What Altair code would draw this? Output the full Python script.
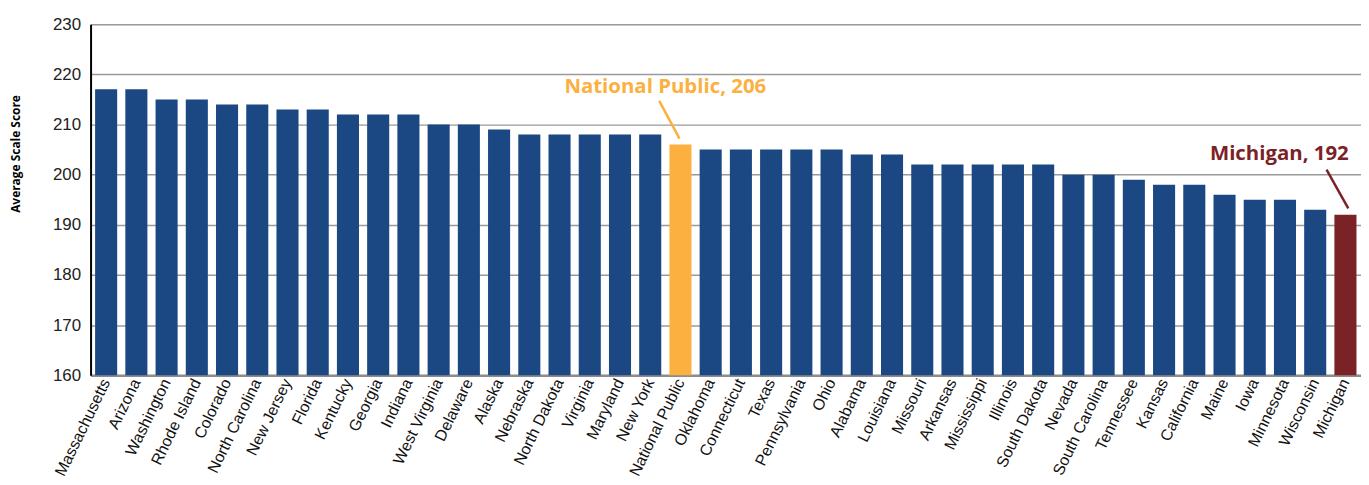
import altair as alt
import pandas as pd

states = ["Massachusetts", "Arizona", "Washington", "Rhode Island", "Colorado",
          "North Carolina", "New Jersey", "Florida", "Kentucky", "Georgia", "Indiana",
          "West Virginia", "Delaware", "Alaska", "Nebraska", "North Dakota", "Virginia",
          "Maryland", "New York", "National Public", "Oklahoma", "Connecticut", "Texas",
          "Pennsylvania", "Ohio", "Alabama", "Louisiana", "Missouri", "Arkansas",
          "Mississippi", "Illinois", "South Dakota", "Nevada", "South Carolina",
          "Tennessee", "Kansas", "California", "Maine", "Iowa", "Minnesota",
          "Wisconsin", "Michigan"]
scores = [217, 217, 215, 215, 214, 214, 213, 213, 212, 212, 212, 210, 210, 209,
          208, 208, 208, 208, 208, 206, 205, 205, 205, 205, 205, 204, 204, 202,
          202, 202, 202, 202, 200, 200, 199, 198, 198, 196, 195, 195, 193, 192]
groups = ["state"] * 19 + ["national"] + ["state"] * 21 + ["michigan"]

group_names = ["state", "national", "michigan"]
group_colors = ["#1B4882", "#FBB040", "#7B2226"]

note_text = ["National Public, 206", "Michigan, 192"]
note_group = ["national", "michigan"]
note_x = [19.0, 39.3]
note_y = [217.5, 204.2]
lead_x1 = [18.8, 40.86]
lead_y1 = [214.7, 201.0]
lead_x2 = [19.47, 41.58]
lead_y2 = [207.2, 193.3]

y_ticks = [160, 170, 180, 190, 200, 210, 220, 230]

df = pd.DataFrame({"state": states, "score": scores, "group": groups})
notes = pd.DataFrame({"text": note_text, "group": note_group, "x": note_x, "y": note_y,
                      "x1": lead_x1, "y1": lead_y1, "x2": lead_x2, "y2": lead_y2})

color_scale = alt.Scale(domain=group_names, range=group_colors)
y_scale = alt.Scale(domain=[160, 230], nice=False, zero=False)

bars = alt.Chart(df).mark_bar(clip=True).encode(
    x=alt.X("state:N", sort=states,
            scale=alt.Scale(paddingInner=0.27, paddingOuter=0.15),
            axis=alt.Axis(title=None, labelAngle=-64, labelFont="Liberation Sans",
                          labelFontSize=16, labelColor="#111111", ticks=False,
                          labelPadding=4, domainColor="#8c8c8c", domainWidth=2.5,
                          grid=False, labelOverlap=False)),
    y=alt.Y("score:Q", scale=y_scale,
            axis=alt.Axis(title="Average Scale Score", values=y_ticks, ticks=False,
                          labelFont="Liberation Sans", labelFontSize=17,
                          labelColor="#222222", labelPadding=10,
                          domainColor="#000000", domainWidth=2,
                          gridColor="#9a9a9a", gridWidth=1.5,
                          titleFont="Open Sans", titleFontWeight="bold",
                          titleFontSize=12, titleColor="#000000",
                          titleX=-75, titleY=130, titleAngle=270,
                          titleAlign="center", titleBaseline="middle")),
    color=alt.Color("group:N", scale=color_scale, legend=None),
)

xq = alt.Scale(domain=[0, 42], nice=False, zero=False)

leads = alt.Chart(notes).mark_rule(strokeWidth=2.5).encode(
    x=alt.X("x1:Q", scale=xq, axis=None),
    x2="x2:Q",
    y=alt.Y("y1:Q", scale=y_scale),
    y2="y2:Q",
    color=alt.Color("group:N", scale=color_scale, legend=None),
)

labels = alt.Chart(notes).mark_text(font="Open Sans", fontWeight="bold", fontSize=20.5,
                                    align="center", baseline="middle").encode(
    x=alt.X("x:Q", scale=xq, axis=None),
    y=alt.Y("y:Q", scale=y_scale),
    text="text:N",
    color=alt.Color("group:N", scale=color_scale, legend=None),
)

chart = alt.layer(bars, leads, labels).resolve_scale(x="independent").properties(
    width=1277, height=353,
    autosize=alt.AutoSizeParams(type="none"),
    padding={"left": 83, "top": 15, "right": 0, "bottom": 109},
).configure_view(stroke=None).configure(background="white")

chart.save("out.html", embed_options={"renderer": "svg", "actions": False})
